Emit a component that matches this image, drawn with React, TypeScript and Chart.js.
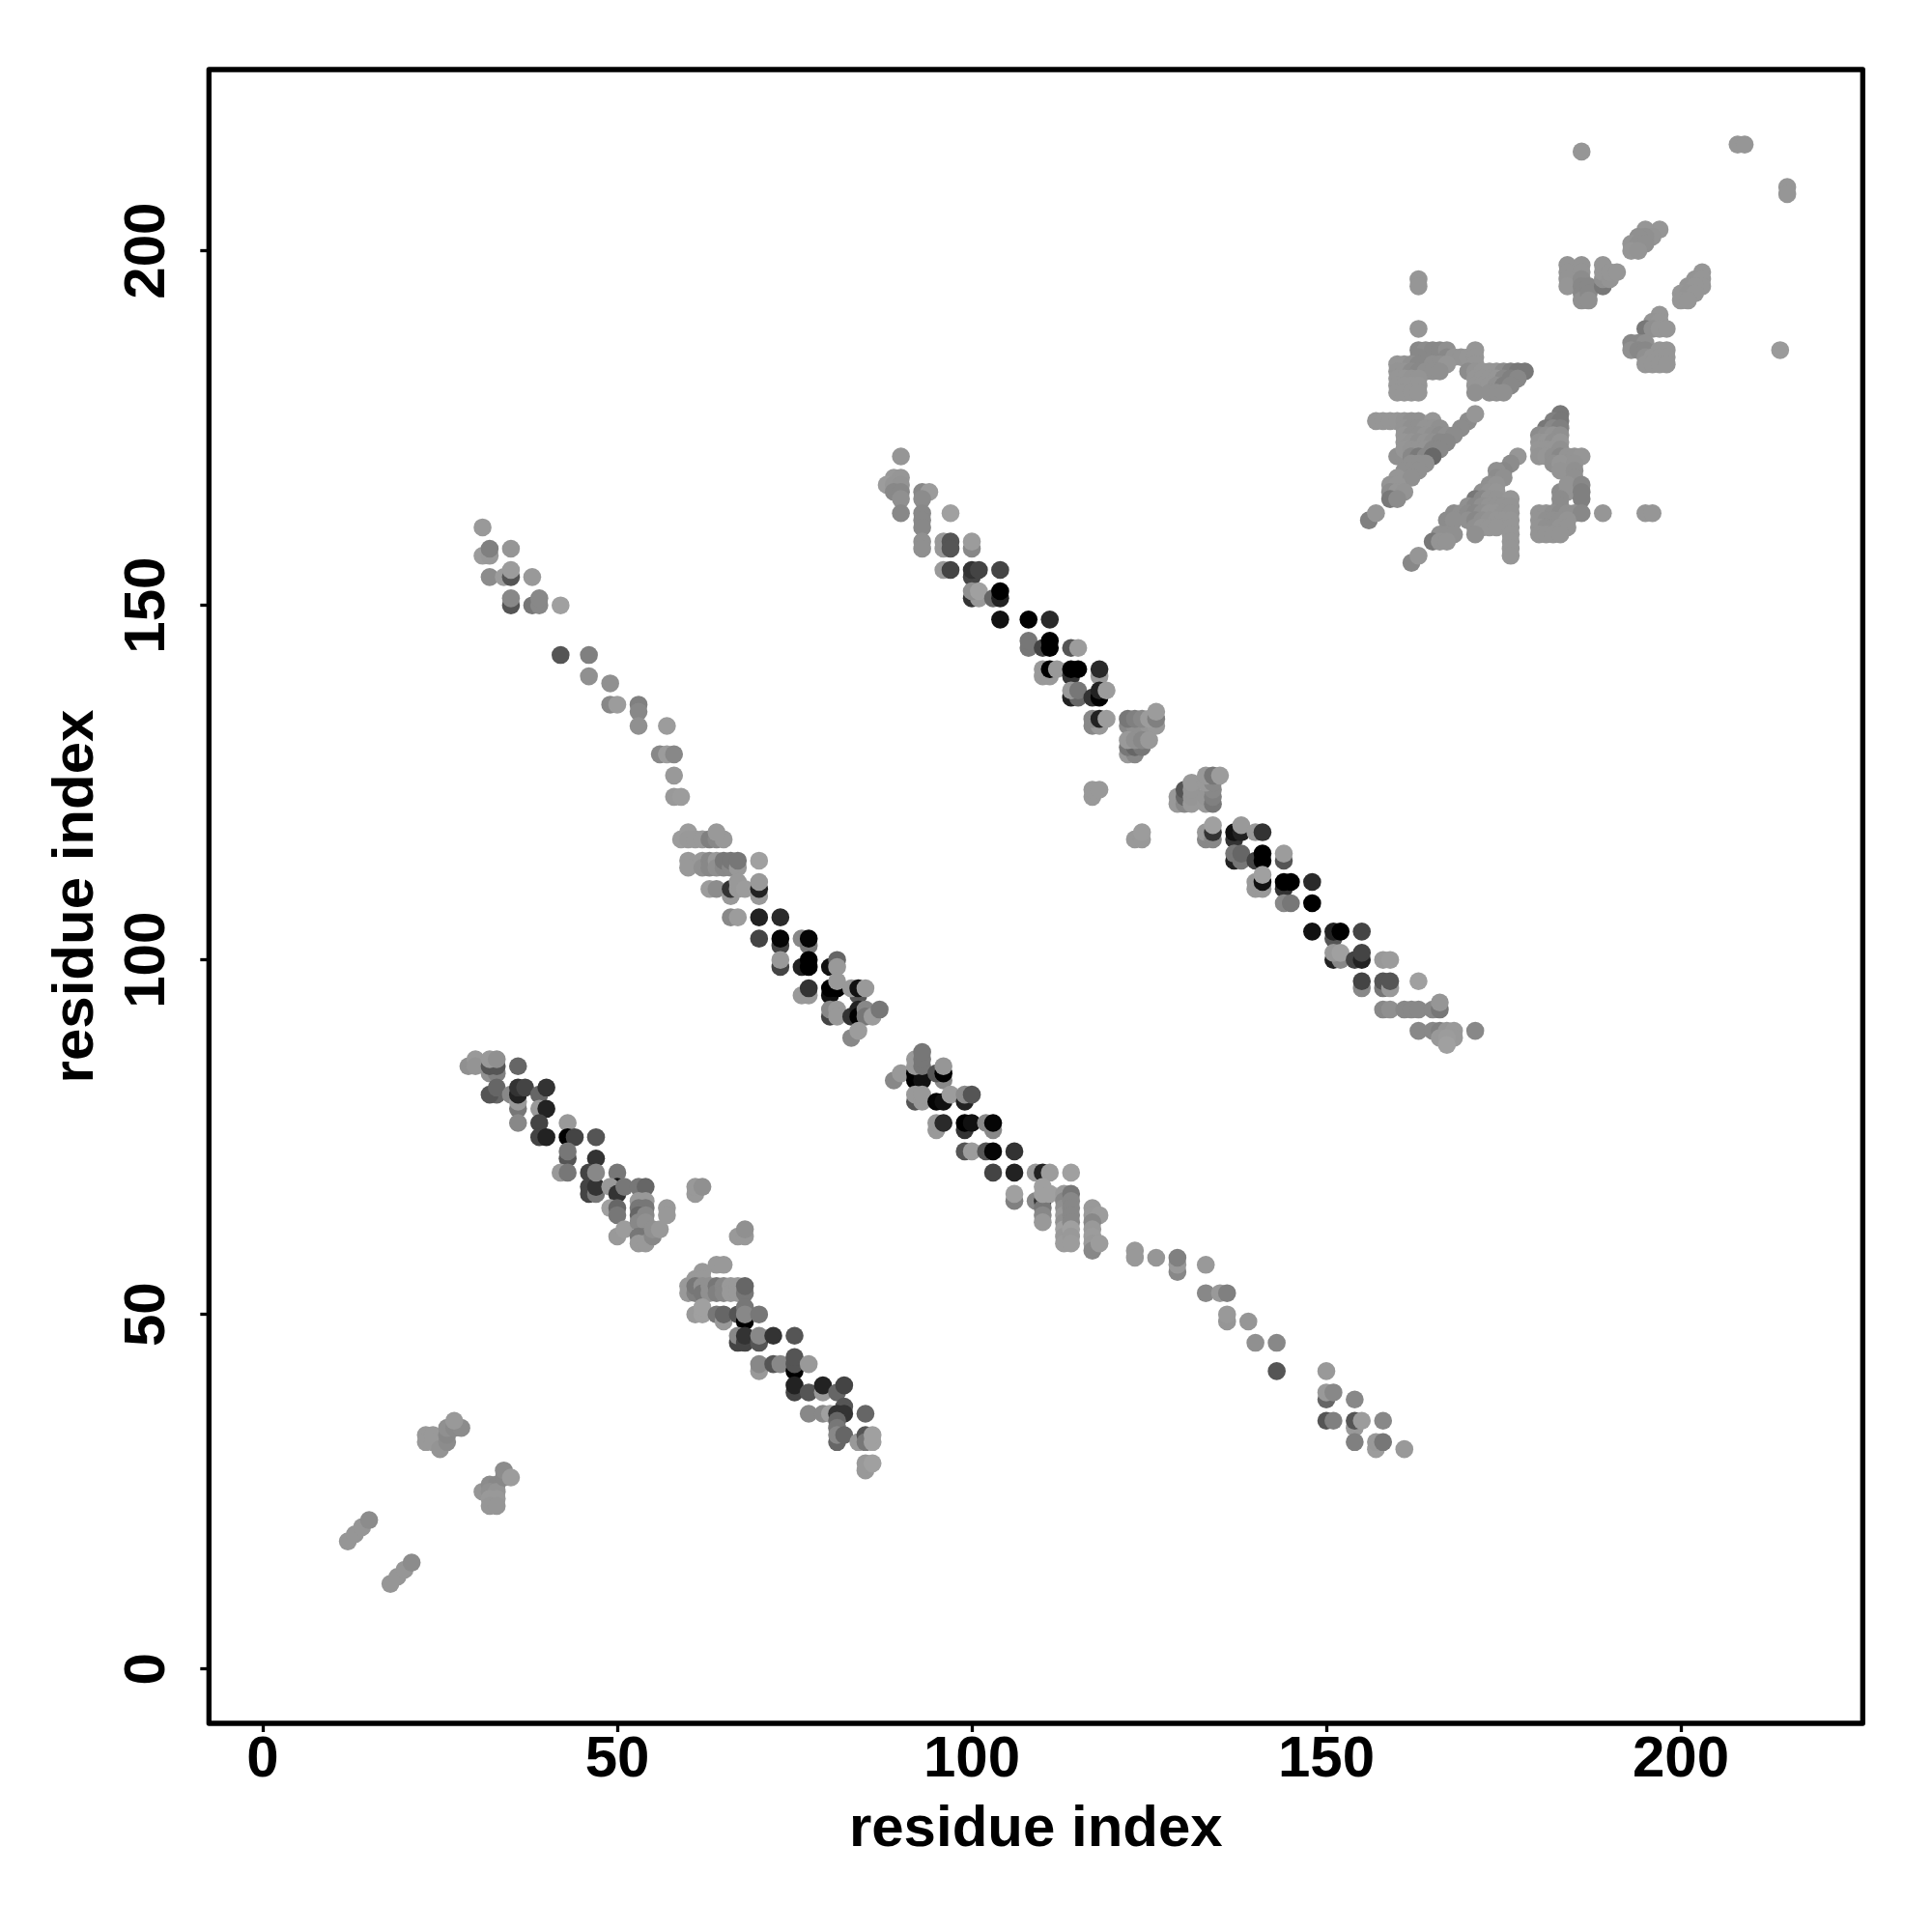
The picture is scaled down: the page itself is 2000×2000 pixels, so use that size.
import React, { useEffect, useRef } from "react";
import { Chart, registerables } from "chart.js";

Chart.register(...registerables);

type P = number[]; // [residue i, residue j, gray level]

const xTicks = [0, 50, 100, 150, 200];
const yTicks = [0, 50, 100, 150, 200];
const axisTitle = "residue index";

const earlyStrands: P[] = [
  [12,18,0x96],[13,19,0x96],[14,20,0x96],[15,21,0x8c],
  [18,12,0x96],[19,13,0x96],[20,14,0x96],[21,15,0x8c],
  [23,33,0x99],[23,32,0x99],[24,33,0x99],[24,32,0x99],[25,31,0x94],[26,32,0x8c],[26,33,0x88],[26,34,0x90],[27,34,0x8a],[28,34,0x8c],[27,35,0x99],
  [31,25,0x96],[32,26,0x8c],[33,26,0x88],[32,25,0x90],[33,25,0x94],[32,24,0x99],[33,24,0x99],[32,23,0x96],[33,23,0x96],[34,27,0x88],[34,28,0x8c],[35,27,0x9c],
];

const lowerBand1: P[] = [
  [29,85,0x90],[30,86,0x99],[30,85,0x94],
  [32,84,0x90],[33,84,0x80],[32,85,0x55],[33,85,0x55],[32,86,0x99],[33,86,0x90],[36,85,0x66],
  [33,81,0x66],[32,81,0x55],[33,82,0x66],[35,81,0x88],[36,79,0x77],[36,77,0x88],[36,80,0x99],[36,81,0x22],[36,82,0x33],[37,82,0x44],
  [39,81,0x66],[40,82,0x33],[39,79,0x99],[40,79,0x22],[39,77,0x44],[39,75,0x44],[40,75,0x22],
  [43,77,0x99],[43,75,0x00],[44,75,0x44],[47,75,0x55],[43,72,0x55],[43,73,0x77],[42,70,0x99],[43,70,0x77],
  [47,72,0x33],[46,70,0x44],[46,68,0x44],[46,67,0x44],[47,67,0x77],[47,68,0x33],[47,70,0x88],[50,70,0x77],
  [50,68,0x11],[49,68,0x99],[50,67,0x33],[51,68,0x77],[49,65,0xa0],[50,65,0x66],[50,64,0x77],[50,61,0x99],[51,62,0x9c],
  [53,68,0x77],[54,68,0x66],[53,66,0x99],[54,66,0x99],[53,65,0x77],[54,65,0x77],[53,64,0x66],[54,64,0x88],[53,63,0x88],[54,63,0x90],
  [53,61,0x77],[54,61,0x77],[53,60,0x99],[54,60,0x99],[55,61,0x88],[55,62,0x90],[56,62,0x99],[57,65,0x99],[57,64,0x99],
  [61,67,0x99],[61,68,0x99],[62,68,0x90],[67,61,0x99],[68,61,0x99],[68,62,0x90],
];

const lowerBand2: P[] = [
  [64,57,0x99],[65,57,0x99],[62,56,0x99],[61,55,0x99],[62,55,0x99],
  [60,54,0x99],[60,53,0x99],[61,53,0x80],[61,54,0x77],[62,54,0x90],[62,53,0x77],[63,54,0x90],[63,53,0x90],
  [64,54,0x77],[64,53,0x80],[65,54,0x88],[65,53,0x88],[66,54,0x99],[66,53,0x99],[67,54,0x99],[67,53,0x99],[68,53,0x77],[68,54,0x66],
  [61,50,0x99],[62,50,0xa0],[62,51,0xa0],[64,50,0x77],[65,49,0x99],[65,50,0x66],[67,50,0x55],[68,49,0x00],[68,51,0x77],[68,50,0x88],[70,50,0x77],
  [67,46,0x44],[67,47,0x88],[68,46,0x44],[68,47,0x33],[70,46,0x55],[70,47,0x88],[72,47,0x33],[75,47,0x55],
  [70,42,0x99],[70,43,0x88],[72,43,0x55],[73,43,0x88],[75,42,0x00],[75,43,0x55],[75,44,0x55],[77,43,0x99],
  [75,39,0x44],[75,40,0x22],[77,39,0x55],[79,39,0x99],[79,40,0x22],[81,39,0x66],[82,40,0x44],
  [77,36,0x88],[79,36,0x88],[80,36,0xa0],[82,37,0x55],[81,36,0x33],[82,36,0x33],[85,36,0x66],
  [81,35,0x66],[81,34,0x77],[81,32,0x66],[81,33,0x88],[82,33,0x66],[84,32,0x99],[85,33,0x55],[85,32,0x77],[86,32,0xa0],[86,33,0xa0],
  [85,28,0x99],[85,29,0x99],[86,29,0xa0],
];

const middleBandStart: P[] = [
  [31,161,0x99],[31,157,0x9c],[32,157,0x99],[32,158,0x80],[35,158,0x96],
  [32,154,0x8c],[34,154,0x9c],[35,154,0x55],[35,155,0x9c],[38,154,0x99],
  [35,150,0x55],[35,151,0x88],[38,150,0x77],[39,150,0x88],[39,151,0x88],[42,150,0xa0],
  [42,143,0x55],[46,143,0x80],[46,140,0x90],[49,139,0x90],[49,136,0x88],[50,136,0x9c],
  [53,136,0x80],[53,135,0x88],[53,133,0x90],[57,133,0x9c],
  [56,129,0x88],[57,129,0x9c],[58,129,0x88],[58,126,0x99],[58,123,0x99],[59,123,0x9c],
];

const middleBandUpper: P[] = [
  [59,117,0x9c],[60,118,0x9c],[60,117,0x99],[61,117,0x99],[62,117,0x99],[63,117,0x80],[64,117,0x88],[65,117,0x99],[64,118,0x99],
  [60,114,0x99],[60,113,0x99],[62,114,0x99],[62,113,0x90],[63,114,0x88],[63,113,0x88],[64,114,0x99],[64,113,0x90],
  [65,113,0x88],[65,114,0x77],[66,113,0x88],[66,114,0x77],[67,113,0x99],[67,114,0x77],[70,114,0xa0],
  [63,110,0x9c],[64,110,0x8c],[66,109,0x99],[66,110,0x33],[67,110,0x99],[67,111,0x99],[68,110,0x9c],
  [70,109,0x99],[70,110,0x22],[70,111,0x99],
  [66,106,0x88],[67,106,0x9c],[70,106,0x22],[73,106,0x2a],
  [70,103,0x44],[73,102,0x44],[73,103,0x05],[76,103,0x88],[77,102,0x77],[77,103,0x05],
  [73,99,0x44],[73,100,0x99],[76,99,0x22],[77,99,0x00],[77,100,0x00],[80,99,0x11],[81,100,0x66],
  [76,95,0x99],[77,95,0x99],[77,96,0x33],[80,95,0x11],[80,96,0x00],[81,96,0x00],[81,99,0x99],[81,97,0x99],
  [84,95,0x55],[83,96,0x99],[84,96,0x11],[85,96,0x99],
  [80,92,0x44],[80,93,0x88],[81,93,0x99],[81,92,0x99],
  [83,92,0x33],[84,93,0x22],[84,92,0x00],[85,93,0x88],[85,92,0x77],[86,92,0x9c],[87,93,0x77],[83,89,0x88],[84,90,0x9c],
];

const middleBandLower: P[] = [
  [89,83,0x88],[90,84,0x99],[92,84,0x00],[92,83,0x00],[93,83,0x11],[93,84,0x11],[92,85,0x99],[92,86,0x99],[93,85,0x77],[93,86,0x77],[93,87,0x77],
  [96,83,0x88],[95,84,0x55],[96,84,0x00],[96,85,0x96],
  [92,80,0x55],[92,81,0x99],[93,80,0x99],[93,81,0x99],[95,80,0x05],[96,80,0x11],[97,81,0x9c],[99,80,0x22],[99,81,0x8c],[100,81,0x55],
  [95,76,0x99],[95,77,0x99],[96,77,0x2a],[99,76,0x33],[99,77,0x00],[100,77,0x11],[103,76,0x88],[102,77,0x88],[103,77,0x05],
  [99,73,0x55],[100,73,0x9c],[102,73,0x55],[103,73,0x05],[106,73,0x33],
  [103,70,0x44],[106,70,0x22],[109,70,0x99],[110,70,0x22],[111,70,0x9c],[114,70,0xa0],
  [106,66,0x80],[106,67,0xa0],[109,66,0x88],[110,66,0x33],[110,65,0x77],[110,64,0x88],[110,63,0x99],[110,67,0xa0],[110,68,0xa0],[111,67,0xa0],
  [113,67,0x99],[113,66,0x88],[113,65,0x90],[113,64,0x99],[113,63,0x90],[113,62,0xa0],[113,61,0x99],[113,60,0x9c],
  [114,67,0x77],[114,66,0x88],[114,65,0x88],[114,64,0x88],[114,63,0x88],[114,62,0xa0],[114,61,0x99],[114,60,0x9c],
  [117,65,0x99],[117,64,0x99],[118,64,0x9c],[117,63,0x88],[117,62,0x99],[117,61,0x9c],[117,60,0x99],[117,59,0x88],[118,60,0x9c],
  [123,59,0x99],[123,58,0x99],[126,58,0x96],[129,56,0x88],[129,57,0x99],[129,58,0x80],[133,57,0x99],[133,53,0x88],[135,53,0x99],[136,53,0x80],
  [136,49,0x96],[136,50,0x99],[139,49,0x96],[140,46,0x90],[143,46,0x88],[143,42,0x55],[150,42,0x99],
  [150,38,0x66],[150,39,0x99],[151,39,0x88],[154,38,0x88],[150,35,0x55],[151,35,0x80],[154,34,0x99],[154,35,0x55],[155,35,0x9c],[158,35,0x88],
  [154,32,0x80],[157,31,0x9c],[157,32,0x99],[158,32,0x77],[161,31,0x99],
];

const upperBand1: P[] = [
  [90,171,0x96],[89,168,0x99],[90,168,0x96],[88,167,0x9c],[89,167,0x96],[90,167,0x94],[89,166,0x88],[90,166,0x88],[90,165,0x90],[90,163,0x88],
  [93,166,0x88],[94,166,0x9c],[93,165,0x8c],[93,163,0x88],[93,162,0x88],[93,161,0x88],[93,159,0x90],[93,158,0x90],[97,163,0xa0],
  [96,159,0x99],[96,158,0x99],[97,159,0x55],[97,158,0x55],[100,158,0x88],[100,159,0x9c],
  [96,155,0x99],[97,155,0x44],[100,154,0x44],[100,155,0x33],[101,155,0x44],[104,155,0x44],
  [100,151,0x33],[101,151,0x99],[100,152,0x90],[101,152,0xa0],[103,151,0x66],[104,151,0x22],[104,152,0x00],[104,148,0x11],[108,148,0x00],[111,148,0x2a],
  [108,144,0x77],[108,145,0x77],[110,144,0x44],[111,144,0x00],[111,145,0x00],[114,144,0x55],[115,144,0x9c],
  [110,140,0x99],[111,140,0x99],[110,141,0x99],[111,141,0x00],[112,141,0x99],[114,140,0x33],[114,141,0x00],[115,141,0x00],[118,140,0x99],[118,141,0x2a],
  [114,137,0x22],[115,137,0x66],[114,138,0x99],[115,138,0x77],[117,137,0x33],[118,137,0x00],[118,138,0x22],[119,138,0x9c],
  [117,133,0x88],[118,133,0x99],[117,134,0x88],[118,134,0x22],[119,134,0x9c],
  [122,133,0x88],[123,133,0x90],[124,133,0x90],[125,133,0x96],[126,133,0x99],[122,134,0x77],[123,134,0x80],[124,134,0x88],[125,134,0x9c],[126,134,0x80],[126,135,0x9c],
  [122,129,0x99],[123,129,0x88],[122,130,0x77],[123,130,0x66],[124,130,0x77],[122,131,0x99],[123,131,0x90],[124,131,0x88],[125,131,0x99],
  [117,123,0x99],[117,124,0x99],[118,124,0x99],
];

const upperBand2: P[] = [
  [123,117,0x99],[124,117,0x99],[124,118,0x9c],
  [129,122,0x99],[129,123,0x99],[130,122,0x88],[130,123,0x66],[130,124,0x55],[131,122,0x99],[131,123,0x96],[131,124,0x96],[131,125,0x99],
  [133,122,0x99],[133,123,0x96],[134,122,0x77],[134,123,0x80],[134,124,0x88],[133,125,0x99],[134,125,0x88],[133,126,0x99],[134,126,0x77],[135,126,0x9c],
  [133,117,0x88],[133,118,0x99],[134,117,0x88],[134,118,0x33],[134,119,0xa0],
  [137,117,0x33],[137,118,0x11],[138,118,0x22],[138,119,0x99],[140,118,0x99],[141,118,0x33],
  [137,114,0x22],[138,114,0x77],[137,115,0x77],[138,115,0x66],[140,114,0x44],[141,114,0x00],[141,115,0x00],[144,114,0x55],[144,115,0x9c],
  [140,110,0x99],[141,110,0x99],[140,111,0x99],[141,111,0x11],[141,112,0xa0],[144,110,0x33],[144,111,0x00],[145,111,0x00],[148,111,0x2a],
  [144,108,0x88],[145,108,0x77],[148,108,0x00],
  [148,104,0x11],[151,103,0x55],[151,104,0x22],[152,104,0x00],[155,104,0x44],
  [151,100,0x22],[152,100,0x88],[151,101,0x99],[152,101,0xa0],[154,100,0x44],[155,100,0x22],[155,101,0x44],[158,100,0x99],[159,100,0x9c],
  [155,96,0x88],[155,97,0x44],[158,96,0x77],[158,97,0x55],[159,96,0x99],[159,97,0x55],[163,97,0xa0],
  [158,93,0x88],[159,93,0x90],[161,93,0x88],[162,93,0x88],[163,93,0x88],[165,93,0x88],[166,93,0x77],[166,94,0x96],
  [163,90,0x88],[165,90,0x88],[166,90,0x80],[167,90,0x96],[168,90,0x99],[166,89,0x99],[168,89,0x99],[167,89,0x9c],[167,88,0xa0],[171,90,0x88],
];

const upperRightLeftBlock: P[] = [
  [163,189,0x96],
  [163,186,0x88],[164,186,0x8c],[165,186,0x88],[166,186,0x88],[167,186,0x90],[171,186,0x96],
  [163,185,0x88],[167,185,0x88],[168,185,0x94],[169,185,0x94],[170,185,0x96],[171,185,0x96],
  [160,184,0x96],[161,184,0x96],[162,184,0x90],[163,184,0x88],[165,184,0x90],[166,184,0x90],[167,184,0x96],[171,184,0x96],
  [160,183,0x94],[161,183,0x94],[162,183,0x8c],[163,183,0x88],[164,183,0x90],[165,183,0x90],[166,183,0x90],
  [170,183,0x8c],[171,183,0x94],[172,183,0x96],[173,183,0x96],[174,183,0x96],[175,183,0x8c],[176,183,0x80],[177,183,0x78],[178,183,0x78],
  [160,182,0x96],[161,182,0x96],[162,182,0x94],[163,182,0x94],[171,182,0x96],[172,182,0x96],[173,182,0x96],[174,182,0x96],[175,182,0x88],[176,182,0x80],[177,182,0x88],
  [160,181,0x96],[161,181,0x96],[162,181,0x96],[163,181,0x96],[171,181,0x96],[172,181,0x96],[173,181,0x96],[174,181,0x90],[175,181,0x80],[176,181,0x88],
  [160,180,0x96],[161,180,0x96],[162,180,0x96],[163,180,0x96],[171,180,0x90],[173,180,0x90],[174,180,0x90],[175,180,0x90],
];

const upperRightMiddle: P[] = [
  [157,176,0x96],[158,176,0x96],[159,176,0x96],[160,176,0x96],[161,176,0x94],[162,176,0x90],[163,176,0x90],[165,176,0x96],[170,176,0x8c],[171,177,0x96],
  [161,175,0x94],[162,175,0x90],[163,175,0x90],[164,175,0x94],[165,175,0x94],[166,175,0x90],[169,175,0x8c],
  [161,174,0x96],[162,174,0x90],[163,174,0x90],[164,174,0x94],[165,174,0x90],[166,174,0x8c],[167,174,0x90],[168,174,0x8c],
  [161,173,0x96],[162,173,0x94],[163,173,0x90],[164,173,0x94],[165,173,0x90],[166,173,0x88],[167,173,0x88],
  [160,171,0x90],[161,171,0x90],[161,172,0x96],[162,172,0x94],[163,172,0x94],[164,172,0x94],[165,172,0x88],[166,172,0x88],
  [162,171,0x88],[163,171,0x7a],[164,171,0x88],[165,171,0x68],
  [162,170,0x90],[163,170,0x90],[164,170,0x90],[161,169,0x90],[162,169,0x90],[163,169,0x90],[160,168,0x96],[162,168,0x90],
  [159,167,0x94],[160,167,0x96],[159,166,0x8c],[160,166,0x96],[161,166,0x94],[159,165,0x78],[160,165,0x8c],
  [156,162,0x80],[157,163,0x96],[162,156,0x88],[163,157,0x96],
];

const upperRightLower: P[] = [
  [177,171,0x96],[176,170,0x8c],[175,169,0x88],[174,169,0x90],[174,168,0x8c],[175,168,0x90],[173,167,0x90],[174,167,0x94],
  [172,166,0x90],[173,166,0x94],[174,166,0x96],[171,165,0x78],[172,165,0x88],[173,165,0x94],[174,165,0x94],[176,165,0x96],
  [170,164,0x90],[171,164,0x88],[172,164,0x90],[173,164,0x94],[174,164,0x94],[175,164,0x94],[176,164,0x94],
  [168,163,0x8c],[169,163,0x90],[170,163,0x8c],[171,163,0x88],[172,163,0x90],[173,163,0x96],[174,163,0x96],[175,163,0x94],[176,163,0x94],
  [167,162,0x8c],[168,162,0x90],[170,162,0x90],[171,162,0x88],[172,162,0x90],[173,162,0x94],[174,162,0x96],[175,162,0x96],[176,162,0x96],
  [171,161,0x90],[172,161,0x96],[173,161,0x96],[174,161,0x96],[176,161,0x96],
  [166,160,0x90],[167,160,0x90],[168,160,0x90],[171,160,0x90],[176,160,0x96],
  [165,159,0x78],[166,159,0x94],[167,159,0x94],[176,159,0x96],[176,158,0x96],[176,157,0x96],
];

const upperRightEnd: P[] = [
  [183,177,0x78],[182,176,0x80],[183,176,0x78],[181,175,0x78],[182,175,0x88],[183,175,0x80],
  [180,174,0x8c],[181,174,0x90],[182,174,0x94],[183,174,0x90],[180,173,0x94],[181,173,0x96],[182,173,0x90],[183,173,0x96],
  [180,172,0x96],[181,172,0x96],[182,172,0x96],[183,172,0x90],[180,171,0x94],[181,171,0x96],[182,171,0x90],[183,171,0x88],[184,171,0x94],[185,171,0x94],[186,171,0x96],
  [182,170,0x90],[183,170,0x96],[185,170,0x94],[183,169,0x94],[185,169,0x90],[185,168,0x90],
  [183,166,0x8c],[184,166,0x94],[184,167,0x94],[186,167,0x88],[186,166,0x80],[183,165,0x8c],[186,165,0x80],[183,164,0x8c],
  [180,163,0x94],[181,163,0x94],[182,163,0x90],[183,163,0x8c],[184,163,0x90],[185,163,0x90],[186,163,0x88],
  [180,162,0x94],[181,162,0x90],[182,162,0x90],[183,162,0x90],[184,162,0x94],
  [180,161,0x94],[181,161,0x90],[182,161,0x90],[183,161,0x94],[184,161,0x94],
  [180,160,0x94],[181,160,0x94],[182,160,0x94],[183,160,0x94],
  [189,163,0x96],[195,163,0x96],[196,163,0x96],
];

const topCorner: P[] = [
  [186,214,0x96],[208,215,0x96],[209,215,0x96],[215,209,0x96],[215,208,0x96],[214,186,0x9a],
  [163,196,0x96],[163,195,0x96],
  [197,203,0x96],[195,203,0x96],[196,202,0x94],[195,202,0x90],[194,202,0x90],[193,201,0x94],[194,201,0x90],[195,201,0x90],[193,200,0x96],[194,200,0x94],
  [184,198,0x94],[184,197,0x94],[184,196,0x94],[184,195,0x96],
  [186,198,0x94],[186,197,0x94],[186,196,0x8c],[186,195,0x88],[186,194,0x88],[186,193,0x90],[187,195,0x88],[187,194,0x88],[187,193,0x90],
  [189,195,0x78],[189,196,0x90],[189,197,0x96],[189,198,0x96],[190,196,0x94],[190,197,0x96],[191,197,0x96],
  [203,197,0x96],[202,196,0x94],[203,196,0x96],[201,195,0x94],[203,195,0x96],[202,195,0x96],[200,194,0x96],[201,194,0x94],[202,194,0x96],[200,193,0x96],[201,193,0x96],
  [197,191,0x96],[196,190,0x94],[197,190,0x96],[195,189,0x78],[196,189,0x90],[197,189,0x96],[198,189,0x96],
  [193,187,0x88],[194,187,0x88],[195,187,0x90],[193,186,0x90],[194,186,0x88],[195,186,0x88],[197,186,0x96],[198,186,0x96],
  [195,185,0x90],[196,185,0x96],[197,185,0x96],[198,185,0x96],[195,184,0x96],[196,184,0x96],[197,184,0x96],[198,184,0x96],
];

const regions: P[][] = [
  earlyStrands, lowerBand1, lowerBand2, middleBandStart, middleBandUpper, middleBandLower,
  upperBand1, upperBand2, upperRightLeftBlock, upperRightMiddle, upperRightLower, upperRightEnd, topCorner,
];

const FONT = "'Liberation Sans', Arial, sans-serif";

const framePlugin = {
  id: "frame",
  afterDatasetsDraw(chart: any) {
    const { ctx, chartArea: a } = chart;
    ctx.save();
    ctx.strokeStyle = "#000";
    ctx.lineWidth = 5.3;
    ctx.lineJoin = "round";
    ctx.strokeRect(a.left, a.top, a.right - a.left, a.bottom - a.top);
    ctx.restore();
  },
};

export default function App() {
  const ref = useRef<HTMLCanvasElement>(null);
  useEffect(() => {
    const chart = new Chart(ref.current!, {
      type: "scatter",
      data: {
        datasets: regions.map((pts, i) => ({
          data: pts.map((p) => ({ x: p[0], y: p[1] })),
          pointRadius: 9.3,
          pointHoverRadius: 9.3,
          pointBorderWidth: 0,
          pointBackgroundColor: pts.map((p) => `rgb(${p[2]},${p[2]},${p[2]})`),
          order: -i,
        })),
      },
      plugins: [framePlugin],
      options: {
        animation: false,
        responsive: false,
        layout: { padding: { top: 72, right: 71.7, left: 0, bottom: 0 } },
        plugins: { legend: { display: false }, tooltip: { enabled: false } },
        scales: {
          x: {
            type: "linear",
            min: -7.59,
            max: 225.65,
            afterBuildTicks: (s: any) => { s.ticks = xTicks.map((v) => ({ value: v })); },
            afterFit: (s: any) => { s.height = 216; },
            grid: { drawOnChartArea: false, drawTicks: true, tickLength: 9, tickWidth: 3.3, tickColor: "#000" },
            border: { display: false },
            ticks: { color: "#000", padding: -7, font: { family: FONT, size: 60, weight: "bold" }, maxRotation: 0, minRotation: 0, autoSkip: false },
            title: { display: true, text: axisTitle, color: "#000", font: { family: FONT, size: 60, weight: "bold" }, padding: { top: 0, bottom: 70 } },
          },
          y: {
            type: "linear",
            min: -7.67,
            max: 225.57,
            afterBuildTicks: (s: any) => { s.ticks = yTicks.map((v) => ({ value: v })); },
            afterFit: (s: any) => { s.width = 216.3; },
            grid: { drawOnChartArea: false, drawTicks: true, tickLength: 9, tickWidth: 3.3, tickColor: "#000" },
            border: { display: false },
            ticks: { color: "#000", padding: 4, font: { family: FONT, size: 60, weight: "bold" }, minRotation: 90, maxRotation: 90, crossAlign: "center", autoSkip: false },
            title: { display: true, text: axisTitle, color: "#000", font: { family: FONT, size: 60, weight: "bold" }, padding: { top: 43, bottom: 0 } },
          },
        },
      },
    } as any);
    return () => chart.destroy();
  }, []);
  return (
    <div style={{ position: "absolute", left: 0, top: 0, width: 2000, height: 2000, background: "#fff" }}>
      <canvas ref={ref} width={2000} height={2000} style={{ display: "block" }} />
    </div>
  );
}
